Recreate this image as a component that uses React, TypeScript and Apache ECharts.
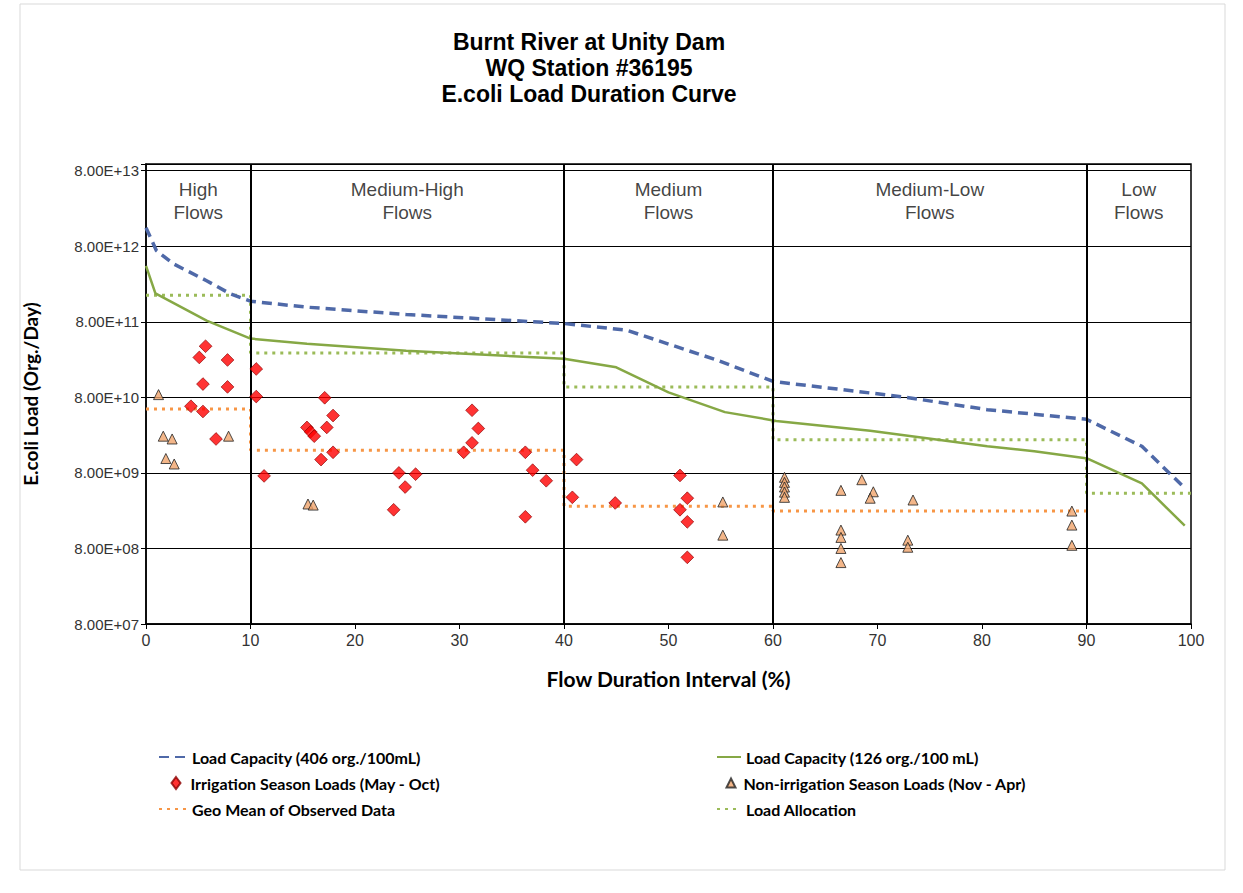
import React, { useEffect, useRef } from 'react';
import * as echarts from 'echarts';

// ---- data (raw loads in org./day, flow-duration interval in %) ----
const cap406X = [0, 1, 2.6, 5.8, 8, 10, 15.4, 24.9, 40, 46, 54.6, 60, 72.5, 80.5, 90, 95.3, 99.3];
const cap406Y = [1.41e13, 7.0e12, 4.7e12, 2.8e12, 1.9e12, 1.5e12, 1.25e12, 1.0e12, 7.6e11, 6.2e11, 2.5e11, 1.3e11, 8.1e10, 5.5e10, 4.1e10, 1.8e10, 5.2e9];

const cap126X = [0, 0.9, 5.8, 10, 15.4, 24.9, 40, 45, 50, 55.4, 60.3, 69.3, 80.5, 85, 90.1, 95.3, 99.4];
const cap126Y = [4.4e12, 1.9e12, 8.3e11, 4.8e11, 4.1e11, 3.3e11, 2.6e11, 2.0e11, 9.3e10, 5.1e10, 3.9e10, 2.9e10, 1.8e10, 1.55e10, 1.24e10, 5.8e9, 1.6e9];

const irrigX = [5.7, 5.1, 7.8, 5.45, 7.8, 4.3, 5.45, 6.7, 10.55, 10.55, 11.3, 17.1, 17.9, 17.3, 15.4, 15.75, 16.1, 17.9, 16.75, 24.2, 25.8, 24.8, 23.7, 31.2, 31.8, 31.2, 30.4, 36.3, 37.0, 38.3, 40.8, 36.3, 41.2, 44.9, 51.1, 51.8, 51.1, 51.8, 51.8];
const irrigY = [3.8e11, 2.7e11, 2.5e11, 1.2e11, 1.1e11, 6.1e10, 5.2e10, 2.25e10, 1.9e11, 8.2e10, 7.3e9, 7.9e10, 4.6e10, 3.2e10, 3.2e10, 2.8e10, 2.45e10, 1.5e10, 1.2e10, 8.0e9, 7.7e9, 5.2e9, 2.6e9, 5.4e10, 3.1e10, 2.0e10, 1.5e10, 1.5e10, 8.7e9, 6.3e9, 3.8e9, 2.1e9, 1.2e10, 3.2e9, 7.4e9, 3.7e9, 2.6e9, 1.8e9, 6.1e8];

const nonIrrX = [1.2, 1.65, 2.5, 7.9, 1.9, 2.7, 15.5, 16.0, 55.2, 55.2, 61.1, 61.1, 61.1, 61.1, 61.1, 66.5, 68.5, 69.6, 69.3, 73.4, 66.5, 66.5, 66.5, 66.5, 72.9, 72.9, 88.6, 88.6, 88.6];
const nonIrrY = [8.7e10, 2.45e10, 2.25e10, 2.45e10, 1.24e10, 1.05e10, 3.1e9, 3.0e9, 3.3e9, 1.2e9, 7.0e9, 6.0e9, 5.2e9, 4.45e9, 3.8e9, 4.7e9, 6.5e9, 4.5e9, 3.7e9, 3.5e9, 1.4e9, 1.12e9, 8.0e8, 5.2e8, 1.03e9, 8.3e8, 2.5e9, 1.63e9, 8.8e8];

const zoneBounds = [0, 10, 40, 60, 90, 100];
const zoneNames = ['High\nFlows', 'Medium-High\nFlows', 'Medium\nFlows', 'Medium-Low\nFlows', 'Low\nFlows'];
const zoneCenters = [5, 25, 50, 75, 95];
const geoMean: (number | null)[] = [5.6e10, 1.6e10, 2.9e9, 2.5e9, null];
const loadAlloc: (number | null)[] = [1.8e12, 3.1e11, 1.1e11, 2.2e10, 4.3e9];

const yTicks = [7, 8, 9, 10, 11, 12, 13]; // 8.00E+07 ... 8.00E+13
const xTicks = [0, 10, 20, 30, 40, 50, 60, 70, 80, 90, 100];

const S1 = 'Load Capacity (406 org./100mL)';
const S2 = 'Load Capacity (126 org./100 mL)';
const S3 = 'Irrigation Season Loads (May - Oct)';
const S4 = 'Non-irrigation Season Loads (Nov - Apr)';
const S5 = 'Geo Mean of Observed Data';
const S6 = 'Load Allocation';

// axis value = log10(load / 8) so that ticks fall on 8.00E+nn
const L = (v: number) => Math.log10(v / 8);

function stepLine(bounds: number[], vals: (number | null)[]) {
  const pts: number[][] = [];
  vals.forEach((v, i) => {
    if (v == null) return;
    pts.push([bounds[i], L(v)]);
    pts.push([bounds[i + 1], L(v)]);
  });
  return pts;
}

const ARIAL = "'Liberation Sans', Arial, sans-serif";
const LEG = "Lato, 'Liberation Sans', Arial, sans-serif";

const legendText = { fontFamily: LEG, fontWeight: 'bold', fontSize: 16, lineHeight: 18, color: '#000' };

function legendBox(left: number, top: number, w: number, h: number, item: any, padLeft = 0) {
  return {
    left, top, padding: 0, itemWidth: w, itemHeight: h, selectedMode: false,
    textStyle: { ...legendText, padding: [0, 0, 0, padLeft] },
    data: [item],
  };
}

export default function App() {
  const ref = useRef<HTMLDivElement>(null);
  useEffect(() => {
    if (!ref.current) return;
    const chart = echarts.init(ref.current, undefined, { renderer: 'svg' });
    const yMax = yTicks[yTicks.length - 1] + 0.089;
    chart.setOption({
      animation: false,
      backgroundColor: '#ffffff',
      graphic: [
        { type: 'rect', shape: { x: 20, y: 4, width: 1205, height: 866 }, style: { fill: 'none', stroke: '#d9d9d9', lineWidth: 1 }, silent: true },
        {
          type: 'text', x: 589, y: 29, silent: true,
          style: {
            text: 'Burnt River at Unity Dam\nWQ Station #36195\nE.coli Load Duration Curve',
            font: `bold 23px ${ARIAL}`, fill: '#000', textAlign: 'center', textVerticalAlign: 'top', lineHeight: 26,
          },
        },
      ],
      grid: { left: 146, right: 52, top: 164, bottom: 269, show: true, borderColor: '#000', borderWidth: 1.5, backgroundColor: 'transparent' },
      xAxis: {
        type: 'value', min: xTicks[0], max: xTicks[xTicks.length - 1], interval: 10,
        name: 'Flow Duration Interval (%)', nameLocation: 'middle', nameGap: 44,
        nameTextStyle: { fontFamily: LEG, fontWeight: 'bold', fontSize: 21, color: '#000' },
        axisLine: { show: true, onZero: false, lineStyle: { color: '#000', width: 1.5 } },
        axisTick: { show: true, length: 5, lineStyle: { color: '#000' } },
        axisLabel: { fontFamily: ARIAL, fontSize: 16, color: '#333', margin: 8 },
        splitLine: { show: false },
      },
      yAxis: {
        type: 'value', min: yTicks[0], max: yMax, interval: 1,
        name: 'E.coli Load (Org./Day)', nameLocation: 'middle', nameGap: 106, nameRotate: 90,
        nameTextStyle: { fontFamily: LEG, fontWeight: 'bold', fontSize: 19, color: '#000' },
        axisLine: { show: true, lineStyle: { color: '#000', width: 1.5 } },
        axisTick: { show: true, length: 5, lineStyle: { color: '#000' } },
        axisLabel: {
          fontFamily: ARIAL, fontSize: 15, color: '#333', margin: 7,
          formatter: (v: number) => (Math.abs(v - Math.round(v)) < 1e-6 ? `8.00E+${String(Math.round(v)).padStart(2, '0')}` : ''),
        },
        splitLine: { show: true, lineStyle: { color: '#000', width: 1 } },
      },
      legend: [
        legendBox(158, 748, 28, 14, { name: S1, itemStyle: { opacity: 0 } }),
        legendBox(716, 748, 24, 14, { name: S2, itemStyle: { opacity: 0 } }),
        legendBox(170.5, 774, 9, 12, { name: S3, icon: 'diamond' }, 5),
        legendBox(725.5, 774, 9, 9, { name: S4, icon: 'triangle' }, 3),
        legendBox(158, 800, 28, 14, { name: S5, itemStyle: { opacity: 0 } }),
        legendBox(716, 800, 24, 14, { name: S6, itemStyle: { opacity: 0 } }),
      ],
      series: [
        {
          name: 'zones', type: 'scatter', symbolSize: 1, silent: true, z: 1,
          itemStyle: { color: 'transparent' },
          label: { show: true, position: 'inside', formatter: (p: any) => p.name, fontFamily: ARIAL, fontSize: 19, lineHeight: 23, color: '#111' },
          data: zoneCenters.map((x, i) => ({ name: zoneNames[i], value: [x, 12.6] })),
          markLine: {
            silent: true, symbol: ['none', 'none'], label: { show: false },
            lineStyle: { color: '#000', width: 2, type: 'solid' },
            data: zoneBounds.slice(1, 5).map((b) => ({ xAxis: b })),
          },
        },
        {
          name: S5, type: 'line', symbol: 'none', showSymbol: false, z: 3,
          lineStyle: { color: '#F79646', width: 3, type: [3, 5] },
          itemStyle: { color: '#F79646' },
          data: stepLine(zoneBounds, geoMean),
        },
        {
          name: S6, type: 'line', symbol: 'none', showSymbol: false, z: 3,
          lineStyle: { color: '#9BBB59', width: 3, type: [3, 5] },
          itemStyle: { color: '#9BBB59' },
          data: stepLine(zoneBounds, loadAlloc),
        },
        {
          name: S1, type: 'line', symbol: 'none', showSymbol: false, z: 4,
          lineStyle: { color: '#4F69A8', width: 3.5, type: [10, 6] },
          itemStyle: { color: '#4F69A8' },
          data: cap406X.map((x, i) => [x, L(cap406Y[i])]),
        },
        {
          name: S2, type: 'line', symbol: 'none', showSymbol: false, z: 4,
          lineStyle: { color: '#86A845', width: 2.5 },
          itemStyle: { color: '#86A845' },
          data: cap126X.map((x, i) => [x, L(cap126Y[i])]),
        },
        {
          name: S3, type: 'scatter', symbol: 'rect', symbolRotate: 45, symbolSize: 9, z: 5,
          itemStyle: { color: '#FF0000', borderColor: '#8B0000', borderWidth: 0.8 },
          data: irrigX.map((x, i) => [x, L(irrigY[i])]),
        },
        {
          name: S4, type: 'scatter', symbol: 'triangle', symbolSize: 10, z: 5,
          itemStyle: { color: '#F0A46C', borderColor: '#222', borderWidth: 1 },
          data: nonIrrX.map((x, i) => [x, L(nonIrrY[i])]),
        },
      ],
    });
    return () => chart.dispose();
  }, []);
  return <div ref={ref} style={{ position: 'fixed', left: 0, top: 0, width: 1243, height: 893, background: '#fff' }} />;
}
